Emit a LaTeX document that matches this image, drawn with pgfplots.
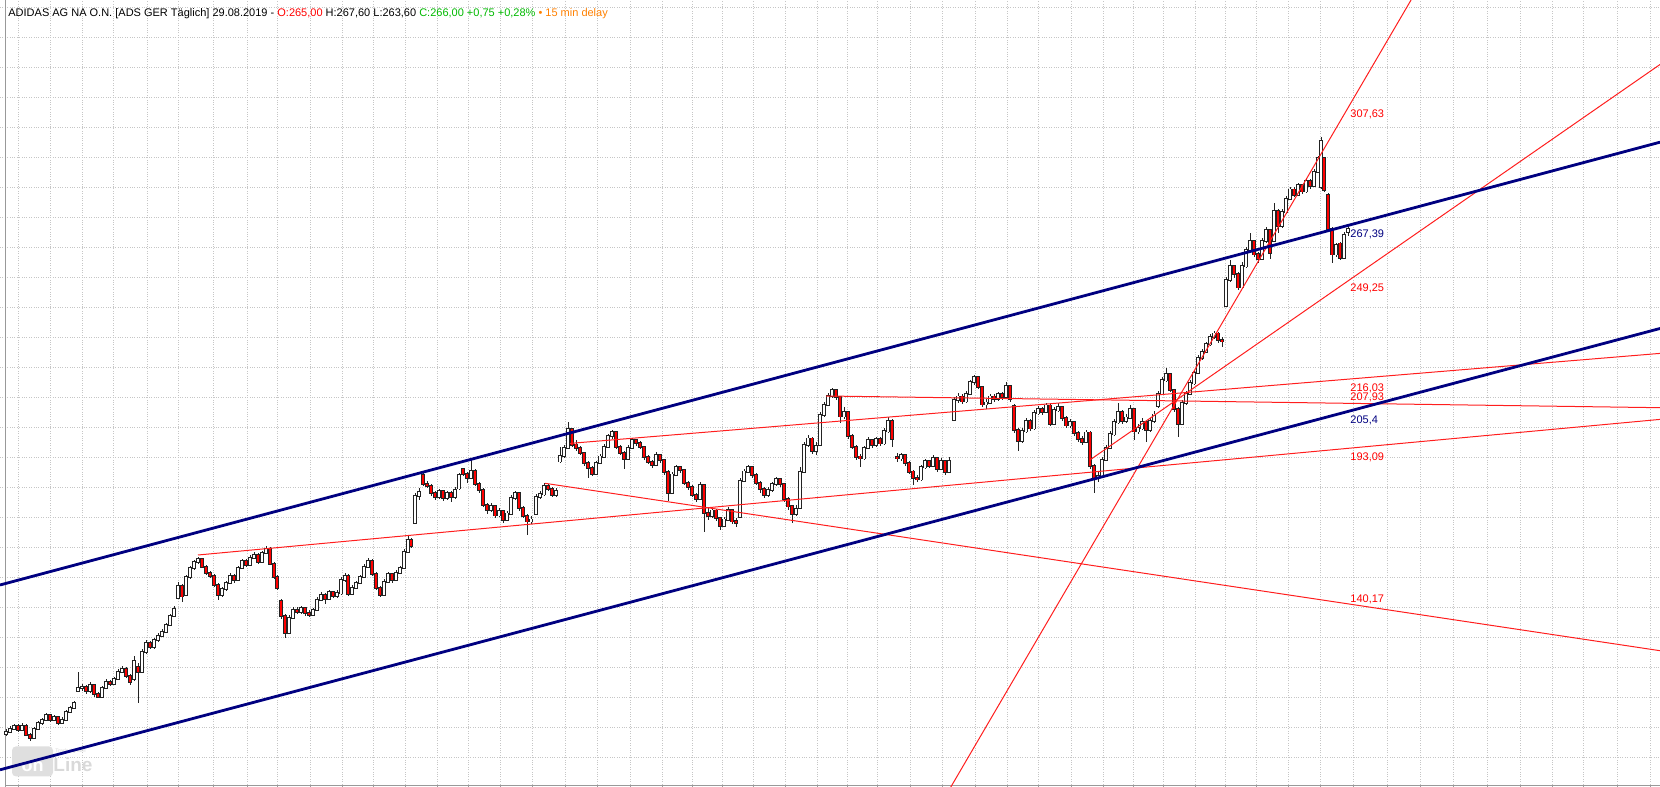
\documentclass[border=0pt]{standalone}
\usepackage{pgfplots}
\pgfplotsset{compat=1.18}
\usepackage{pgfplotstable}
\usepackage{fontspec}
\setmainfont{Liberation Sans}
\definecolor{navyl}{RGB}{0,0,128}
\definecolor{redl}{RGB}{255,30,30}
\definecolor{gridc}{RGB}{198,198,198}
\definecolor{greent}{RGB}{0,185,0}
\definecolor{oranget}{RGB}{255,128,0}
\definecolor{candleedge}{RGB}{35,35,35}
\pgfplotstableread{
x o h l c
6 97.8 99.4 97.2 98.5
10 98.5 100.3 98.0 99.5
14 99.5 101.2 99.0 100.5
18 100.5 101.0 98.4 99.0
22 99.0 101.5 98.6 100.5
26 100.5 101.0 97.0 97.5
30 97.5 98.2 95.5 96.5
34 96.5 100.0 96.0 99.5
38 99.5 102.2 99.0 101.5
42 101.5 103.2 100.8 102.5
46 102.5 104.6 102.0 104.0
50 104.0 104.4 101.8 102.5
54 102.5 104.2 102.0 103.5
58 103.5 103.8 100.7 101.5
62 101.5 103.4 101.0 102.5
66 102.5 105.6 102.0 105.0
70 105.0 107.2 104.6 106.5
74 106.5 108.6 106.0 108.0
78 112.0 118.5 111.6 113.0
82 113.0 114.5 112.0 113.5
86 113.5 114.0 111.2 112.0
90 112.0 115.0 111.5 114.0
94 114.0 114.4 110.2 111.0
98 111.0 111.6 109.6 110.0
102 110.0 113.6 109.8 113.0
106 113.0 116.0 112.6 115.0
110 115.0 115.8 113.8 114.5
114 114.5 116.8 114.0 116.0
118 116.0 119.5 115.6 118.5
122 118.5 120.4 118.0 119.5
126 119.5 120.0 116.4 117.0
130 117.0 117.6 114.0 115.0
134 116.0 123.6 115.5 122.0
138 120.0 121.5 108.0 118.5
142 118.5 126.0 118.0 125.0
146 125.0 129.0 124.5 128.0
150 128.0 128.8 126.0 126.8
154 126.8 129.6 126.2 129.0
158 129.0 131.4 128.5 130.5
162 130.5 132.6 130.0 131.8
166 131.8 134.8 131.4 134.0
170 134.0 137.8 133.6 137.0
174 137.0 140.4 136.8 139.5
178 143.0 148.5 142.6 147.0
182 147.0 147.6 141.8 143.6
186 144.0 150.8 143.6 150.0
190 150.0 153.8 149.5 153.0
194 153.0 155.8 152.5 155.0
198 155.0 156.8 154.4 156.0
202 156.0 156.4 153.0 153.5
206 153.5 154.0 150.8 151.5
210 151.5 152.2 149.8 150.5
214 150.5 151.0 146.8 147.5
218 147.5 148.0 142.4 144.0
222 144.0 146.8 143.4 146.0
226 146.0 148.8 145.5 148.0
230 148.0 151.3 147.6 150.5
234 150.5 151.0 148.2 149.0
238 149.0 153.8 148.6 153.0
242 153.0 156.2 152.6 155.5
246 155.5 156.0 153.4 154.0
250 154.0 157.4 153.6 156.5
254 156.5 158.4 156.0 157.5
258 157.5 158.0 154.4 155.0
262 155.0 158.8 154.6 158.0
266 158.0 160.3 157.6 159.5
270 159.5 160.0 154.0 154.5
274 154.5 155.0 149.4 150.0
277 150.0 150.6 145.7 146.5
281 142.0 142.6 136.0 137.0
285 137.0 137.6 129.6 131.5
289 131.5 137.4 131.0 136.5
293 136.5 140.0 136.0 139.0
297 139.0 140.2 137.6 138.4
301 138.4 140.4 137.8 139.6
305 139.6 140.0 137.2 138.0
309 138.0 139.0 136.8 137.4
313 137.4 139.8 137.0 139.0
317 139.0 143.4 138.6 142.5
321 142.5 145.0 142.0 144.0
325 144.0 144.6 141.2 142.8
329 142.8 145.8 142.4 145.0
333 145.0 145.4 143.0 143.8
337 143.8 145.6 143.2 144.6
341 144.6 150.0 144.2 149.0
345 149.0 151.3 148.4 150.5
348 150.5 151.0 143.8 144.5
352 144.5 147.4 144.0 146.5
356 146.5 148.8 146.0 148.0
360 148.0 150.8 147.6 150.0
364 150.0 154.4 149.6 153.5
368 153.5 156.3 153.0 155.5
372 155.5 156.0 150.4 151.0
376 151.0 151.6 145.8 146.5
380 146.5 147.0 143.5 144.2
384 144.2 149.4 143.8 148.5
388 148.5 151.8 148.0 151.0
392 151.0 151.4 148.2 149.0
396 149.0 152.4 148.6 151.5
400 151.5 153.8 151.0 153.0
404 153.0 159.4 152.6 158.5
408 158.5 163.7 158.0 162.5
411 162.5 163.0 159.6 160.5
415 168.0 178.0 167.6 177.0
419 177.0 179.6 175.8 178.5
423 184.0 184.6 180.4 181.0
427 181.0 182.0 179.6 180.5
431 180.5 181.0 177.2 178.0
435 178.0 178.6 175.6 176.8
439 176.8 179.4 176.2 178.6
443 178.6 179.0 175.4 176.4
447 176.4 178.8 175.8 178.0
451 178.0 178.6 175.2 176.8
455 176.8 180.0 176.2 179.0
459 179.6 184.8 179.2 184.0
463 186.0 186.5 183.6 184.5
467 184.5 185.0 181.5 183.2
471 183.2 189.0 182.6 185.5
475 185.5 186.0 180.4 181.0
479 181.0 181.6 178.2 179.0
483 179.0 179.6 173.4 174.0
487 174.0 174.6 171.0 172.4
491 172.4 174.6 171.8 173.6
495 173.6 174.0 169.8 170.6
499 170.6 173.0 170.0 172.0
503 172.0 172.4 168.0 169.0
507 169.0 172.0 168.6 171.2
511 171.2 177.4 170.8 176.5
515 176.5 178.8 175.8 178.0
519 178.0 178.4 172.2 173.0
523 173.0 173.6 169.8 170.5
527 170.5 171.0 164.0 168.6
531 168.6 170.4 167.8 169.2
536 171.0 177.6 170.6 176.8
540 176.8 178.6 176.0 177.6
544 177.6 181.4 177.0 180.5
548 180.5 181.2 178.6 179.4
552 179.4 180.0 176.6 177.4
556 177.4 179.6 176.8 178.6
560 188.6 193.5 188.0 190.5
564 190.5 194.0 189.8 193.0
568 193.0 201.8 192.6 199.4
572 199.4 199.8 193.4 194.2
576 194.2 195.6 192.2 193.0
580 193.0 193.8 190.6 191.4
584 191.4 191.8 187.2 188.0
588 188.0 188.8 183.0 186.4
592 186.4 187.0 183.6 184.5
596 184.5 188.8 184.0 188.0
600 188.0 191.0 187.6 190.2
604 190.2 194.4 189.8 193.5
608 193.5 197.8 193.0 197.0
612 197.0 199.2 196.2 198.5
616 198.5 198.8 192.8 193.5
620 193.5 194.2 190.6 191.5
624 191.5 192.0 186.0 189.4
628 189.4 194.0 189.0 193.0
632 193.0 196.3 192.6 195.6
636 195.6 196.2 193.8 194.8
640 194.8 195.4 192.8 193.4
644 193.4 193.8 189.2 190.0
648 190.0 190.8 187.6 188.4
652 188.4 189.2 186.4 187.4
656 187.4 191.6 187.0 190.6
660 190.6 191.2 188.2 189.0
664 189.0 189.4 184.2 185.0
668 185.0 185.6 175.4 178.0
672 178.0 185.2 177.6 184.2
676 184.2 187.4 183.6 186.6
680 186.6 187.2 184.8 185.8
684 185.8 186.2 180.8 181.5
688 181.5 182.2 179.2 180.0
692 180.0 180.6 176.8 177.5
696 177.5 178.2 175.2 176.0
700 176.0 181.8 175.6 180.6
704 180.6 181.0 165.2 171.5
708 171.5 173.0 169.2 170.4
712 170.4 173.4 169.8 172.2
716 172.2 172.8 168.6 169.8
720 169.8 170.2 165.7 167.0
724 167.0 170.0 166.6 169.2
728 169.2 173.4 168.8 172.4
732 172.4 172.8 167.8 168.6
736 168.6 169.6 166.8 168.0
740 170.0 183.0 169.6 182.0
744 182.0 186.0 181.6 185.2
748 185.2 187.4 184.6 186.6
752 186.6 187.0 183.2 184.0
756 184.0 184.6 180.6 181.5
760 181.5 182.0 178.0 179.4
764 179.4 180.0 176.4 177.4
768 177.4 180.0 176.8 179.0
772 179.0 181.8 178.4 181.0
776 181.0 183.4 180.4 182.6
780 182.6 183.0 180.2 181.0
784 181.0 181.4 175.2 176.0
788 176.0 176.6 172.4 173.6
792 173.6 174.0 168.0 171.2
796 171.2 174.2 170.4 172.6
800 173.0 186.8 172.6 185.0
804 185.0 195.0 184.6 194.0
808 194.0 197.5 193.4 196.2
812 196.2 196.6 191.0 192.0
816 192.0 195.0 190.6 193.6
820 194.0 205.0 193.6 204.0
824 204.0 208.4 203.4 207.5
828 207.5 211.4 207.0 210.5
832 210.5 213.2 209.8 212.4
836 212.4 212.8 209.2 210.0
840 210.0 210.4 201.3 203.6
844 203.6 206.6 202.8 205.0
848 205.0 205.4 196.2 197.0
852 197.0 197.6 192.6 193.5
856 193.5 194.0 189.2 190.2
860 190.2 191.2 186.8 189.6
864 189.6 193.8 189.0 193.0
868 193.0 196.6 192.6 195.6
872 195.6 196.2 193.2 194.0
876 194.0 196.8 193.4 196.0
880 196.0 196.6 193.6 194.6
884 194.6 199.6 194.0 198.6
888 198.6 203.5 198.0 202.0
892 202.0 202.6 193.5 196.0
897 190.0 191.3 188.4 189.6
901 189.6 191.4 188.8 190.6
905 190.6 191.0 187.0 188.0
909 188.0 188.6 184.4 185.2
913 185.2 185.8 180.7 183.0
917 183.0 184.0 181.6 182.6
921 182.6 187.4 182.0 186.6
925 186.6 189.4 186.0 188.6
929 188.6 189.2 186.4 187.2
933 187.2 190.6 186.8 189.6
937 189.6 190.0 185.2 186.2
941 186.2 189.6 185.6 188.6
945 188.6 189.0 184.2 185.2
949 185.2 190.0 184.8 188.6
954 202.4 210.2 202.0 209.0
958 209.0 211.4 208.0 210.2
962 210.2 211.0 207.6 208.6
966 208.6 212.0 208.0 211.0
970 211.0 215.8 210.6 215.0
974 215.0 217.4 214.2 216.6
978 216.6 217.0 212.6 213.4
982 213.4 213.8 206.6 207.6
986 207.6 209.4 206.0 208.2
990 208.2 211.2 207.6 210.2
994 210.2 211.0 208.4 209.4
998 209.4 211.8 208.8 211.0
1002 211.0 211.6 209.2 210.0
1006 210.0 215.2 209.6 213.6
1010 213.6 214.0 208.4 209.4
1014 207.0 207.6 198.0 199.0
1018 199.0 199.6 192.0 195.4
1022 195.4 199.6 194.8 198.6
1026 198.6 203.0 198.0 202.0
1030 202.0 202.6 198.6 199.6
1034 199.6 205.6 199.0 204.6
1038 204.6 207.0 204.0 206.0
1042 206.0 206.8 204.0 205.0
1046 205.0 208.0 204.6 207.2
1050 207.2 207.6 200.4 201.2
1054 201.2 206.6 200.8 205.6
1058 205.6 208.0 205.0 206.6
1062 206.6 207.0 202.0 203.0
1066 203.0 203.6 199.6 200.6
1070 200.6 202.6 199.8 201.6
1074 201.6 202.0 197.0 198.0
1078 198.0 198.6 195.0 196.0
1082 196.0 197.0 194.0 195.0
1086 195.0 199.0 194.6 198.2
1090 198.2 198.6 186.0 187.0
1094 187.0 187.6 178.0 183.0
1098 183.0 185.0 181.8 183.6
1102 183.6 190.0 183.0 189.0
1106 189.0 194.0 188.6 193.0
1110 193.0 198.6 192.6 197.6
1114 197.6 202.6 197.0 201.6
1118 201.6 208.0 201.0 205.0
1122 205.0 205.6 201.2 202.0
1126 202.0 204.4 201.4 203.2
1130 203.2 207.4 202.6 206.0
1134 206.0 206.4 195.8 198.6
1138 198.6 201.0 197.6 199.6
1142 199.6 203.0 199.0 201.6
1146 201.6 202.0 195.2 199.0
1150 199.0 203.0 198.4 202.0
1154 202.0 205.4 201.4 204.2
1158 207.0 212.0 206.4 211.0
1162 211.0 216.6 210.6 215.6
1166 215.6 219.6 215.0 217.6
1170 217.6 218.0 211.6 212.4
1174 212.4 212.8 205.0 206.0
1178 206.0 206.6 196.8 201.0
1182 201.0 209.0 200.6 208.0
1186 208.0 212.0 207.4 211.0
1190 211.0 215.6 210.6 214.6
1194 214.6 219.0 214.0 218.0
1198 218.0 224.0 217.6 223.0
1202 223.0 226.0 222.4 225.0
1206 225.0 228.5 224.6 227.6
1210 227.6 231.0 227.0 230.0
1214 230.0 232.2 229.4 231.2
1218 231.2 231.6 228.2 229.0
1222 229.0 230.0 226.6 228.6
1226 240.4 250.0 240.0 249.0
1230 249.0 255.6 248.4 253.6
1234 253.6 254.2 249.6 251.0
1238 251.0 251.6 245.6 246.6
1242 246.6 255.0 246.0 253.6
1246 253.6 260.0 253.0 259.0
1250 259.0 264.6 258.6 262.0
1254 262.0 262.4 256.6 257.6
1258 257.6 258.4 254.6 256.0
1262 256.0 263.0 255.6 262.0
1266 262.0 266.8 261.4 265.6
1270 265.6 266.0 256.0 258.0
1274 262.0 274.6 261.6 272.0
1278 272.0 272.6 264.6 267.0
1282 267.0 272.6 266.4 271.6
1286 271.6 277.0 271.0 276.0
1290 276.0 280.2 275.6 279.2
1294 279.2 280.0 276.6 277.4
1298 277.4 281.4 277.0 280.6
1302 280.6 281.2 277.6 278.6
1306 278.6 282.8 278.0 282.0
1310 282.0 282.6 279.4 280.4
1314 280.4 286.2 280.0 285.0
1318 285.0 290.4 284.6 289.6
1321 280.0 296.8 279.4 295.4
1324 289.6 290.0 278.4 279.0
1328 277.4 278.0 265.4 266.0
1332 266.0 266.6 254.6 257.6
1336 257.6 261.4 256.6 260.6
1340 261.2 261.6 255.6 256.4
1344 256.4 265.0 256.0 264.0
1348 265.0 267.6 263.6 266.0
}\candles

\begin{document}
\begin{tikzpicture}
\begin{axis}[
  name=ax,
  scale only axis, width=830pt, height=393.5pt,
  xmin=0, xmax=1660, ymin=80.067, ymax=342.4,
  axis line style={draw=none},
  xtick={18,50,82,113,147,178,213,247,277,310,342,373,405,437,468,500,532,565,597,630,662,692,722,753,785,817,847,877,910,942,975,1007,1038,1071,1103,1133,1163,1195,1225,1256,1288,1320,1353,1387,1420,1453,1487,1520,1552,1583,1617,1650},
  ytick={90,100,...,340},
  xticklabels={}, yticklabels={},
  major tick length=0pt,
  grid=major,
  grid style={dash pattern=on 0.5pt off 0.7pt, gridc, line width=0.45pt},
  clip=true,
]
% left and bottom axis lines
\draw[gray!80, line width=0.5pt] (axis cs:5,80.067) -- (axis cs:5,342.4);
\draw[gray!80, line width=0.5pt] (axis cs:5,80.73) -- (axis cs:1660,80.73);
\pgfplotsinvokeforeach{18,50,82,113,147,178,213,247,277,310,342,373,405,437,468,500,532,565,597,630,662,692,722,753,785,817,847,877,910,942,975,1007,1038,1071,1103,1133,1163,1195,1225,1256,1288,1320,1353,1387,1420,1453,1487,1520,1552,1583,1617,1650}{
  \draw[gray!80, line width=0.5pt] (axis cs:#1,80.73) -- (axis cs:#1,80.067);
}
% watermark logo
\fill[gray!25, rounded corners=2pt] (axis cs:12,83.6) rectangle (axis cs:53,93.6);
\node[anchor=base, text=white, font=\bfseries\fontsize{9}{9}\selectfont, inner sep=0] at (axis cs:32.5,85.3) {on};
\node[anchor=base west, text=gray!30, font=\bfseries\fontsize{9.5}{9.5}\selectfont, inner sep=0] at (axis cs:53,85.3) {Line};
\node[anchor=base west, text=gray!30, font=\fontsize{2.6}{3}\selectfont, inner sep=0] at (axis cs:55,91.6) {Tradesignal®};

% wicks
\addplot[draw=none, mark=none, forget plot,
  error bars/.cd, y dir=both, y explicit, error mark=none,
  error bar style={draw=candleedge, line width=0.5pt}]
  table[x=x, y expr={(\thisrow{h}+\thisrow{l})/2}, y error expr={(\thisrow{h}-\thisrow{l})/2}] {\candles};
% body outlines
\addplot[draw=none, mark=none, forget plot,
  error bars/.cd, y dir=both, y explicit, error mark=none,
  error bar style={draw=candleedge, line width=2.0pt, line cap=butt}]
  table[x=x, y expr={(\thisrow{o}+\thisrow{c})/2}, y error expr={abs(\thisrow{c}-\thisrow{o})/2+0.35}] {\candles};
% up bodies (hollow)
\addplot[draw=none, mark=none, forget plot,
  restrict expr to domain={\thisrow{c}-\thisrow{o}}{0:1000},
  error bars/.cd, y dir=both, y explicit, error mark=none,
  error bar style={draw=white, line width=1.1pt, line cap=butt}]
  table[x=x, y expr={(\thisrow{o}+\thisrow{c})/2}, y error expr={abs(\thisrow{c}-\thisrow{o})/2+0.05}] {\candles};
% down bodies (red)
\addplot[draw=none, mark=none, forget plot,
  restrict expr to domain={\thisrow{c}-\thisrow{o}}{-1000:-0.001},
  error bars/.cd, y dir=both, y explicit, error mark=none,
  error bar style={draw=red, line width=1.1pt, line cap=butt}]
  table[x=x, y expr={(\thisrow{o}+\thisrow{c})/2}, y error expr={abs(\thisrow{c}-\thisrow{o})/2+0.05}] {\candles};

% trend lines
\addplot[redl, line width=0.5pt] coordinates {(940,73.9) (1420,347.5)};
\addplot[redl, line width=0.5pt] coordinates {(1090,189.1) (1660,320.9)};
\addplot[redl, line width=0.5pt] coordinates {(570,194.6) (1660,224.6)};
\addplot[redl, line width=0.5pt] coordinates {(826,210.4) (1660,206.5)};
\addplot[redl, line width=0.5pt] coordinates {(198,157.4) (1660,202.6)};
\addplot[redl, line width=0.5pt] coordinates {(545,181.3) (1660,125.5)};
\addplot[navyl, line width=1.4pt] coordinates {(0,147.4) (1660,295.0)};
\addplot[navyl, line width=1.4pt] coordinates {(0,85.8) (1660,232.9)};

% value labels
\node[anchor=west, inner sep=0, font=\fontsize{5.5}{6}\selectfont, text=red] at (axis cs:1350,304.4) {307,63};
\node[anchor=west, inner sep=0, font=\fontsize{5.5}{6}\selectfont, text=navyl] at (axis cs:1350,264.4) {267,39};
\node[anchor=west, inner sep=0, font=\fontsize{5.5}{6}\selectfont, text=red] at (axis cs:1350,246.4) {249,25};
\node[anchor=west, inner sep=0, font=\fontsize{5.5}{6}\selectfont, text=red] at (axis cs:1350,213.1) {216,03};
\node[anchor=west, inner sep=0, font=\fontsize{5.5}{6}\selectfont, text=red] at (axis cs:1350,209.9) {207,93};
\node[anchor=west, inner sep=0, font=\fontsize{5.5}{6}\selectfont, text=navyl] at (axis cs:1350,202.4) {205,4};
\node[anchor=west, inner sep=0, font=\fontsize{5.5}{6}\selectfont, text=red] at (axis cs:1350,190.1) {193,09};
\node[anchor=west, inner sep=0, font=\fontsize{5.5}{6}\selectfont, text=red] at (axis cs:1350,142.7) {140,17};

% header
\node[anchor=base west, inner sep=0, font=\fontsize{5.5}{6}\selectfont] at (axis cs:8,337.0)
  {ADIDAS AG NA O.N. [ADS GER Täglich] 29.08.2019 - \textcolor{red}{O:265,00} H:267,60 L:263,60 \textcolor{greent}{C:266,00 +0,75 +0,28\%} \textcolor{oranget}{• 15 min delay}};
\end{axis}
\pgfresetboundingbox
\path[use as bounding box] (ax.south west) rectangle (ax.north east);
\end{tikzpicture}
\end{document}
